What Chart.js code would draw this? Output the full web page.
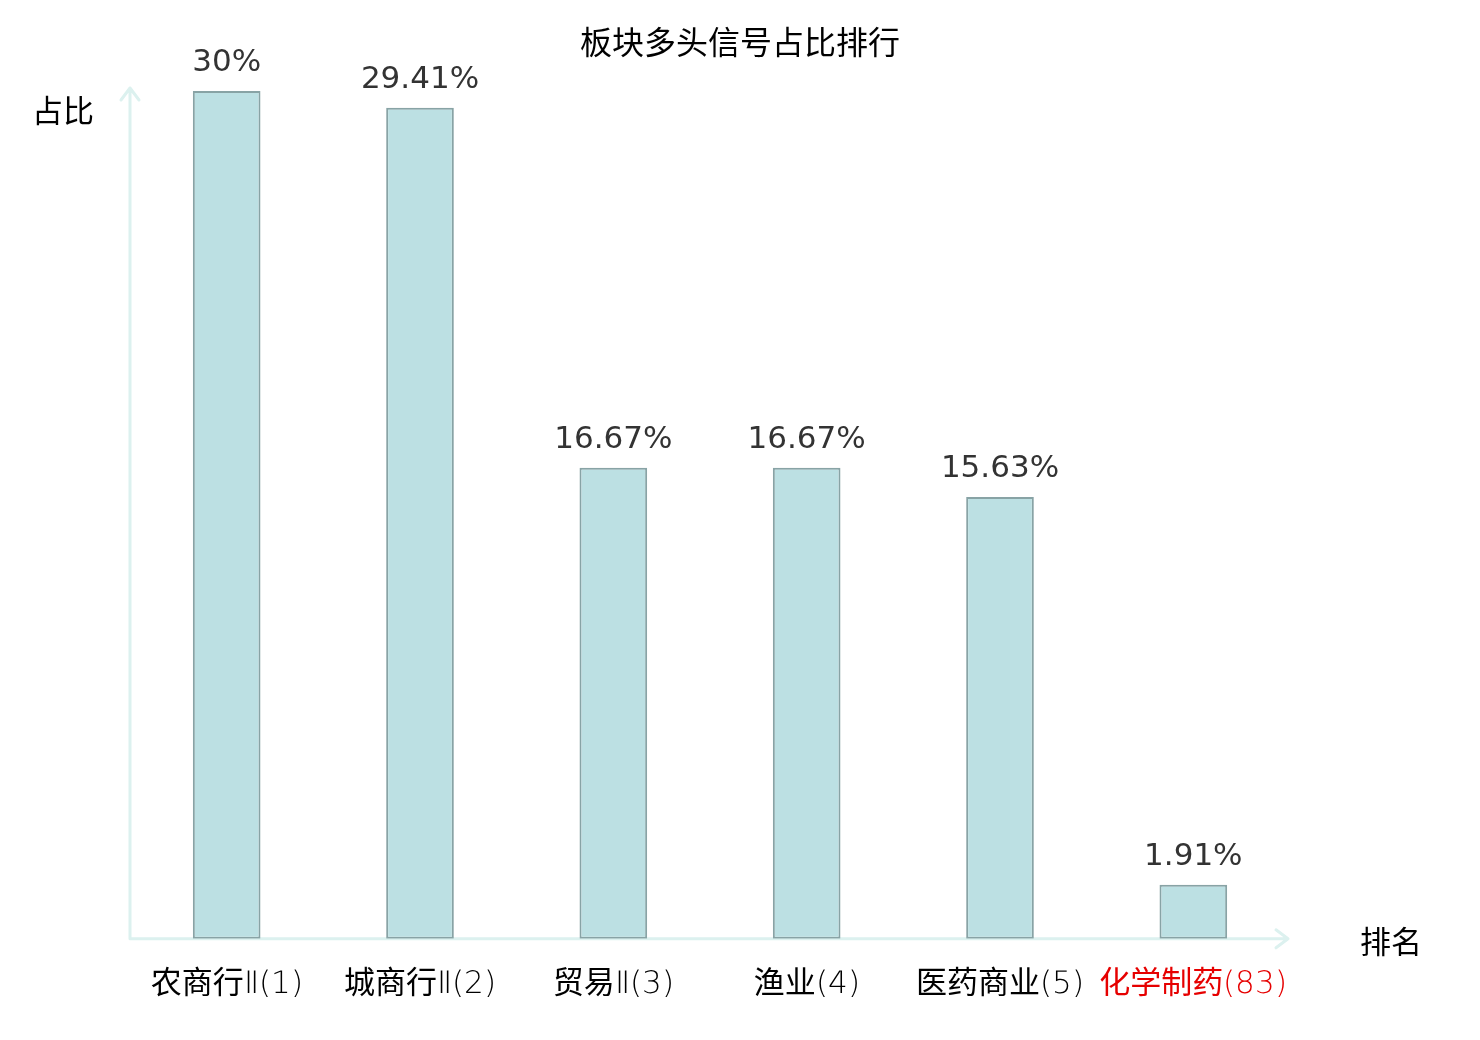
<!DOCTYPE html>
<html>
<head>
<meta charset="utf-8">
<script src="https://cdn.jsdelivr.net/npm/chart.js@4"></script>
<style>
  @font-face {
    font-family: 'TickLatin';
    src: local('DejaVu Sans ExtraLight'), local('DejaVuSans-ExtraLight');
  }
  html, body { margin: 0; padding: 0; background: #ffffff; }
  #wrap { width: 1480px; height: 1040px; }
</style>
</head>
<body>
<div id="wrap"><canvas id="rankChart" width="1480" height="1040"></canvas></div>
<script>
// Data kategori dan nilai persentase
const categories = ['农商行Ⅱ(1)', '城商行Ⅱ(2)', '贸易Ⅱ(3)', '渔业(4)', '医药商业(5)', '化学制药(83)'];
const shareValues = [30, 29.41, 16.67, 16.67, 15.63, 1.91];
const highlightIndex = [5];

const chartTitle = '板块多头信号占比排行';
const yAxisName = '占比';
const xAxisName = '排名';

const cjkFont = '"Noto Sans CJK SC", "Noto Sans", sans-serif';
const tickFont = 'TickLatin, "Noto Sans CJK SC", sans-serif';
const axisColor = '#dcf1ef';

// Plugin untuk panah sumbu, judul dan label nilai
const decorPlugin = {
    id: 'decor',
    beforeDatasetsDraw(chart) {
        const { ctx, chartArea } = chart;
        const { left, right, top, bottom } = chartArea;
        ctx.save();
        ctx.strokeStyle = axisColor;
        ctx.lineWidth = 3;
        ctx.lineCap = 'round';
        ctx.lineJoin = 'round';
        // sumbu y
        ctx.beginPath();
        ctx.moveTo(left, bottom);
        ctx.lineTo(left, top - 3);
        ctx.moveTo(left - 9, top + 9);
        ctx.lineTo(left, top - 3);
        ctx.lineTo(left + 9, top + 9);
        // sumbu x
        ctx.moveTo(left, bottom);
        ctx.lineTo(right - 2, bottom);
        ctx.moveTo(right - 14, bottom - 9);
        ctx.lineTo(right - 2, bottom);
        ctx.lineTo(right - 14, bottom + 9);
        ctx.stroke();
        ctx.restore();
    },
    afterDatasetsDraw(chart) {
        const { ctx } = chart;
        const meta = chart.getDatasetMeta(0);
        ctx.save();
        ctx.fillStyle = '#333333';
        ctx.font = '31px "DejaVu Sans", sans-serif';
        ctx.textAlign = 'center';
        ctx.textBaseline = 'middle';
        meta.data.forEach((bar, i) => {
            ctx.fillText(shareValues[i] + '%', bar.x, bar.y - 28);
        });

        ctx.fillStyle = '#000000';
        ctx.font = '32px ' + cjkFont;
        ctx.fillText(chartTitle, 740, 42);
        ctx.font = '31px ' + cjkFont;
        ctx.fillText(yAxisName, 63, 110);
        ctx.fillText(xAxisName, 1391, 941);
        ctx.restore();
    }
};

function drawChart() {
    new Chart(document.getElementById('rankChart').getContext('2d'), {
        type: 'bar',
        data: {
            labels: categories,
            datasets: [{
                data: shareValues,
                backgroundColor: '#bce0e3',
                borderColor: '#88a3a5',
                borderWidth: 2,
                borderSkipped: false,
                barPercentage: 0.35,
                categoryPercentage: 1.0
            }]
        },
        options: {
            responsive: false,
            animation: false,
            layout: { padding: { left: 130, right: 190, top: 91, bottom: 16 } },
            scales: {
                x: {
                    grid: { display: false },
                    border: { display: false },
                    ticks: {
                        padding: 20,
                        autoSkip: false,
                        maxRotation: 0,
                        font: { size: 31, family: tickFont },
                        color: (c) => highlightIndex.includes(c.index) ? '#e60000' : '#000000'
                    }
                },
                y: {
                    display: false,
                    min: 0,
                    max: 30
                }
            },
            plugins: {
                legend: { display: false },
                tooltip: { enabled: false }
            }
        },
        plugins: [decorPlugin]
    });
}

// Tunggu font lokal siap, lalu gambar
document.fonts.load('31px TickLatin', '(1)').then(drawChart, drawChart);
</script>
</body>
</html>
